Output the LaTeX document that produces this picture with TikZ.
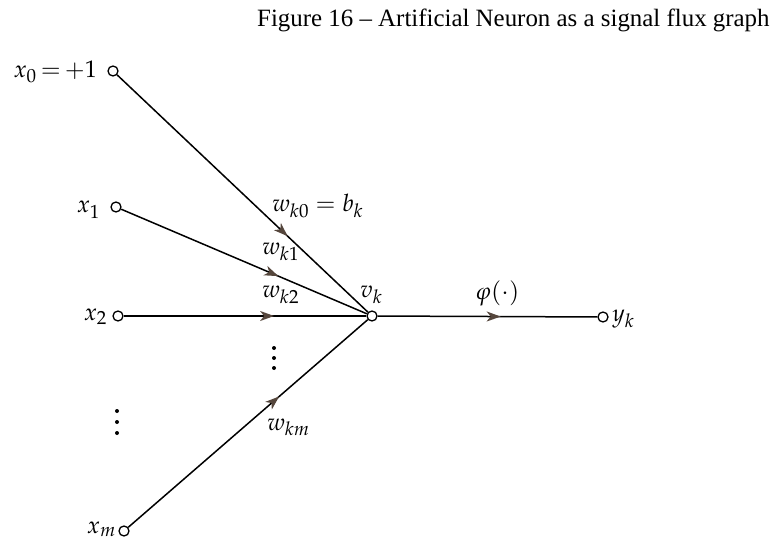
\documentclass[tikz,border=0pt]{standalone}
\usepackage{mathpazo}
\usepackage{fontspec}
\setmainfont{Liberation Serif}
\DeclareMathSizes{24}{24}{19}{15}
\usetikzlibrary{arrows.meta,decorations.markings}
\definecolor{arcol}{RGB}{85,70,60}
\begin{document}
\begin{tikzpicture}[x=1pt,y=-1pt,
  term/.style={circle,draw,line width=1.3pt,inner sep=0pt,minimum size=10pt,fill=white},
  sig/.style={line width=1.5pt,postaction={decorate},
    decoration={markings,mark=at position #1 with {\arrow[arcol]{Stealth[length=14pt,width=10pt,inset=4pt]}}}},
  lab/.style={font=\fontsize{24}{29}\selectfont,inner sep=0pt},
  dotc/.style={circle,fill,inner sep=0pt,minimum size=4pt}]
\useasboundingbox (0,0) rectangle (777,548);
\node[anchor=base west,inner sep=0pt,font=\fontsize{24.9}{29}\selectfont] (title) at (257,27) {Figure 16 – Artificial Neuron as a signal flux graph};
\node[term] (x0) at (113,71) {};
\node[term] (x1) at (116,207) {};
\node[term] (x2) at (118,316) {};
\node[term] (xm) at (124,531) {};
\node[term] (vk) at (372,316) {};
\node[term] (yk) at (603,317) {};
\draw[sig=0.68] (x0) -- (vk);
\draw[sig=0.64] (x1) -- (vk);
\draw[sig=0.62] (x2) -- (vk);
\draw[sig=0.63] (xm) -- (vk);
\draw[sig=0.56] (vk) -- (yk);
\node[lab,anchor=base east] (lx0) at (97,78) {$x_0\,{=}\,{+}1$};
\node[lab,anchor=base east] (lx1) at (100,213) {$x_1$};
\node[lab,anchor=base east] (lx2) at (107,320) {$x_2$};
\node[lab,anchor=base east] (lxm) at (116,533) {$x_m$};
\node[lab,anchor=base west] (lyk) at (612,322) {$y_k$};
\node[lab,anchor=base west] (lw0) at (272,212) {$w_{k0}=b_k$};
\node[lab,anchor=base west] (lw1) at (262,255) {$w_{k1}$};
\node[lab,anchor=base west] (lw2) at (262,298) {$w_{k2}$};
\node[lab,anchor=base west] (lwm) at (267,430) {$w_{km}$};
\node[lab,anchor=base west] (lvk) at (360,298) {$v_k$};
\node[lab,anchor=base west] (lphi) at (475,300) {$\varphi(\cdot)$};
\foreach \i in {0,1,2} {
  \node[dotc] (da\i) at (274,348+10*\i) {};
  \node[dotc] (db\i) at (117,411+11*\i) {};
}
\end{tikzpicture}
\end{document}
